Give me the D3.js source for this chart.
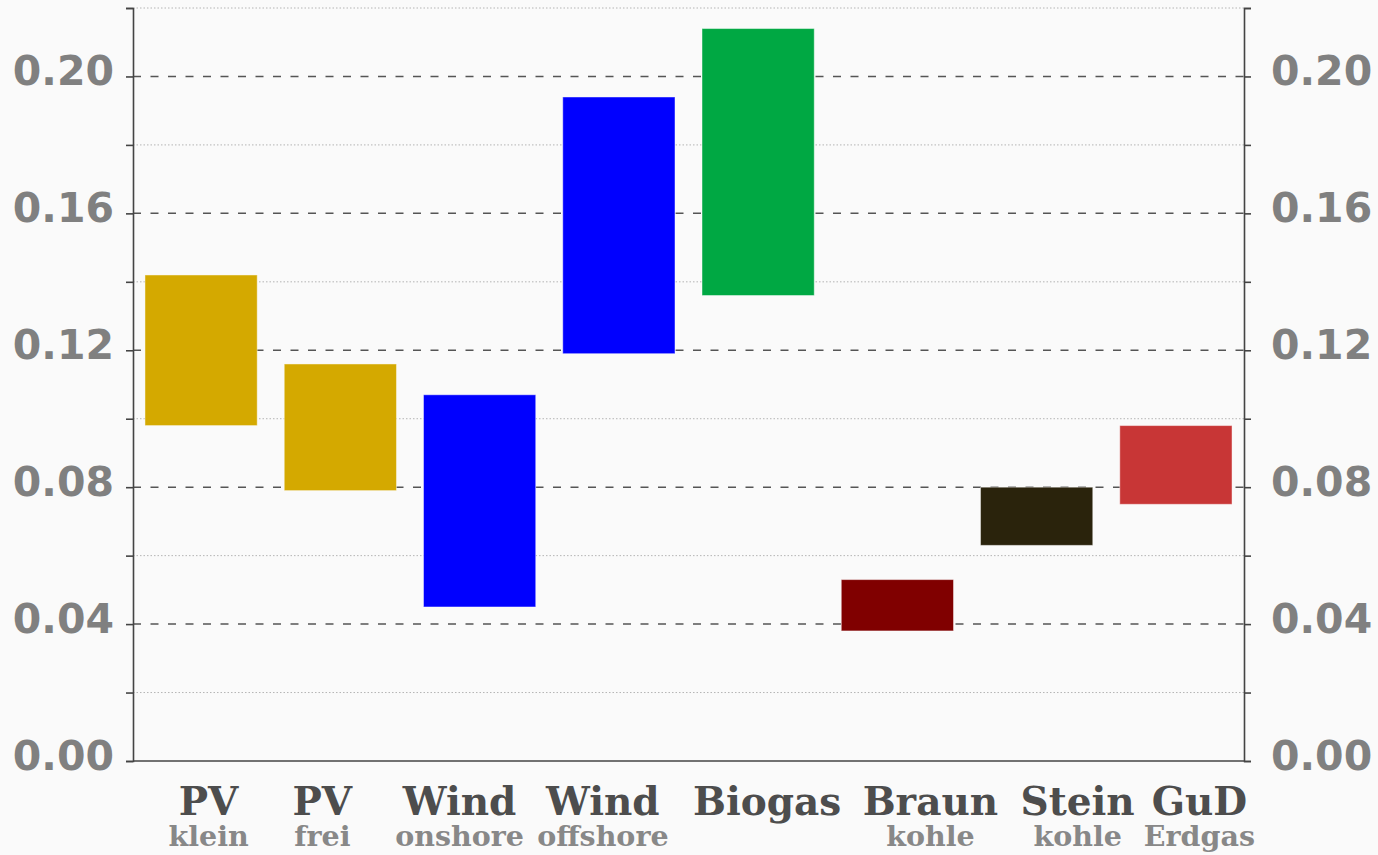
<!DOCTYPE html>
<html>
<head>
<meta charset="utf-8">
<script src="https://cdn.jsdelivr.net/npm/d3@7"></script>
<style>
  html, body { margin: 0; padding: 0; background: #fafafa; }
  svg { display: block; }
</style>
</head>
<body>
<svg id="chart" width="1378" height="855"></svg>
<script>
// ---- data ----
const categories = ["PV klein", "PV frei", "Wind onshore", "Wind offshore", "Biogas", "Braunkohle", "Steinkohle", "GuD Erdgas"];
const mainLabels = ["PV", "PV", "Wind", "Wind", "Biogas", "Braun", "Stein", "GuD"];
const subLabels  = ["klein", "frei", "onshore", "offshore", "", "kohle", "kohle", "Erdgas"];
const lowValues  = [0.098, 0.079, 0.045, 0.119, 0.136, 0.038, 0.063, 0.075];
const highValues = [0.142, 0.116, 0.107, 0.194, 0.214, 0.053, 0.080, 0.098];
const barColors  = ["#d4a900", "#d4a900", "#0000ff", "#0000ff", "#00a843", "#800000", "#2a230c", "#c83636"];
const majorTicks = [0, 0.04, 0.08, 0.12, 0.16, 0.20];
const minorTicks = [0.02, 0.06, 0.10, 0.14, 0.18, 0.22];
const tickLabels = ["0.00", "0.04", "0.08", "0.12", "0.16", "0.20"];

// ---- layout ----
const L = 133, R = 1244, T = 8, B = 761;
const labelShift = [7.5, -18, -20, -16, 9, 33, 41, 23.5];

const svg = d3.select("#chart");
svg.append("rect").attr("width", 1378).attr("height", 855).attr("fill", "#fafafa");

const x = d3.scaleBand().domain(categories).range([L, R]).paddingInner(0.194).paddingOuter(0.086);
const y = d3.scaleLinear().domain([0, 0.22]).range([B, T]);

// grid
const grid = svg.append("g");
grid.selectAll("line.minor").data(minorTicks).join("line")
  .attr("class", "minor")
  .attr("x1", L).attr("x2", R)
  .attr("y1", d => y(d)).attr("y2", d => y(d))
  .attr("stroke", "#b4b4b4").attr("stroke-width", 1).attr("stroke-dasharray", "1.5,2");
grid.selectAll("line.major").data(majorTicks.filter(d => d > 0)).join("line")
  .attr("class", "major")
  .attr("x1", L).attr("x2", R)
  .attr("y1", d => y(d)).attr("y2", d => y(d))
  .attr("stroke", "#555").attr("stroke-width", 1.5).attr("stroke-dasharray", "8,9.5");

// bars
svg.append("g").selectAll("rect").data(categories).join("rect")
  .attr("x", d => x(d))
  .attr("width", x.bandwidth())
  .attr("y", (d, i) => y(highValues[i]))
  .attr("height", (d, i) => y(lowValues[i]) - y(highValues[i]))
  .attr("fill", (d, i) => barColors[i])
  .attr("stroke", "rgba(255,255,255,0.45)")
  .attr("stroke-width", 1);

// axes
const allTicks = majorTicks.concat(minorTicks).sort((a, b) => a - b);
const leftAxis = d3.axisLeft(y).tickValues(allTicks).tickSize(7).tickFormat("");
const rightAxis = d3.axisRight(y).tickValues(allTicks).tickSize(7).tickFormat("");
const gl = svg.append("g").attr("transform", `translate(${L},0)`).call(leftAxis);
const gr = svg.append("g").attr("transform", `translate(${R},0)`).call(rightAxis);
[gl, gr].forEach(g => {
  g.select(".domain").attr("stroke", "#444").attr("stroke-width", 1.6);
  g.selectAll(".tick line").attr("stroke", "#444").attr("stroke-width", 1.6);
});
// bottom spine
svg.append("line").attr("x1", L).attr("x2", R).attr("y1", B).attr("y2", B)
  .attr("stroke", "#444").attr("stroke-width", 1.6);

// y tick labels
const tickFont = "'DejaVu Sans', sans-serif";
svg.append("g").selectAll("text").data(majorTicks).join("text")
  .attr("x", 114).attr("y", d => y(d) + 9)
  .attr("text-anchor", "end")
  .attr("font-family", tickFont).attr("font-weight", "bold").attr("font-size", 41)
  .attr("fill", "#808080")
  .text((d, i) => tickLabels[i]);
svg.append("g").selectAll("text").data(majorTicks).join("text")
  .attr("x", 1271).attr("y", d => y(d) + 9)
  .attr("text-anchor", "start")
  .attr("font-family", tickFont).attr("font-weight", "bold").attr("font-size", 41)
  .attr("fill", "#808080")
  .text((d, i) => tickLabels[i]);

// category labels
const catFont = "'DejaVu Serif', serif";
svg.append("g").selectAll("text").data(categories).join("text")
  .attr("x", (d, i) => x(d) + x.bandwidth() / 2 + labelShift[i])
  .attr("y", 815)
  .attr("text-anchor", "middle")
  .attr("font-family", catFont).attr("font-weight", "bold").attr("font-size", 39)
  .attr("fill", "#4d4d4d")
  .text((d, i) => mainLabels[i]);
svg.append("g").selectAll("text").data(categories).join("text")
  .attr("x", (d, i) => x(d) + x.bandwidth() / 2 + labelShift[i])
  .attr("y", 846)
  .attr("text-anchor", "middle")
  .attr("font-family", catFont).attr("font-weight", "bold").attr("font-size", 28.5)
  .attr("fill", "#888888")
  .text((d, i) => subLabels[i]);
</script>
</body>
</html>
